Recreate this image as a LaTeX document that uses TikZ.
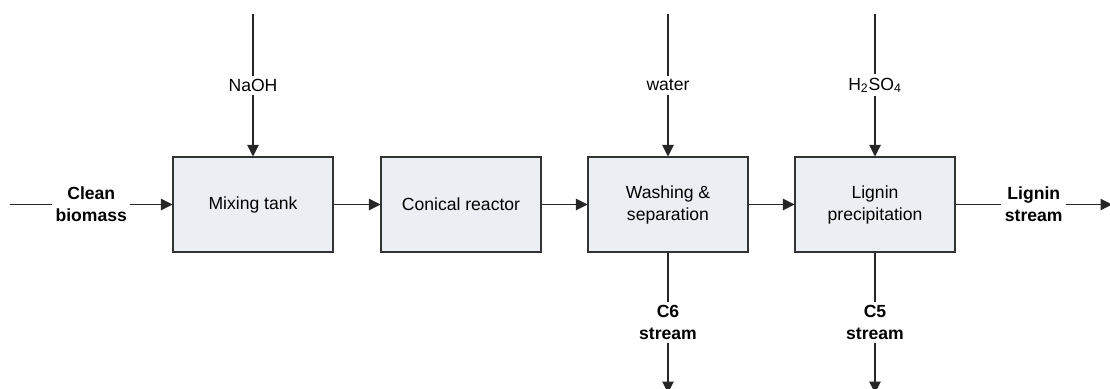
\documentclass[tikz,border=0pt]{standalone}
\usepackage{fontspec}
\setmainfont{Liberation Sans}
\usetikzlibrary{arrows.meta,positioning}
\definecolor{boxfill}{HTML}{EBEEF3}

\begin{document}
\begin{tikzpicture}[x=0.02cm,y=-0.02cm,every node/.style={font=\fontsize{10}{12.5}\selectfont},
  unit/.style={draw=black!80,fill=boxfill,line width=.6pt,minimum width=3.2cm,minimum height=1.9cm,align=center},
  flow/.style={draw=black!85,line width=.6pt,-{Triangle[length=2.3mm,width=2.3mm]}},
  lbl/.style={fill=white,inner sep=2pt,align=center},
  blbl/.style={lbl,font=\fontsize{10}{12.5}\selectfont\bfseries}]
\useasboundingbox (0,0) rectangle (1110,389);
% process units
\node[unit] (mix) at (253,204.5) {Mixing tank};
\node[unit] (reac) at (461,204.5) {Conical reactor};
\node[unit] (wash) at (668,204.5) {Washing \&\\separation};
\node[unit] (prec) at (875,204.5) {Lignin\\precipitation};
% free stream ends
\coordinate (feed) at (10,204.5);
\coordinate (naoh) at (253,14);
\coordinate (wat) at (668,14);
\coordinate (acid) at (875,14);
\coordinate (cSix) at (668,393);
\coordinate (cFive) at (875,393);
\coordinate (out) at (1112,204.5);
% streams
\draw[flow] (feed) -- node[blbl] {Clean\\biomass} (mix);
\draw[flow] (mix) -- (reac);
\draw[flow] (reac) -- (wash);
\draw[flow] (wash) -- (prec);
\draw[flow] (prec) -- node[blbl] {Lignin\\stream} (out);
\draw[flow] (naoh) -- node[lbl] {NaOH} (mix);
\draw[flow] (wat) -- node[lbl] {water} (wash);
\draw[flow] (acid) -- node[lbl] {H\textsubscript{2}SO\textsubscript{4}} (prec);
\draw[flow] (wash) -- node[blbl] {C6\\stream} (cSix);
\draw[flow] (prec) -- node[blbl] {C5\\stream} (cFive);
\end{tikzpicture}
\end{document}
